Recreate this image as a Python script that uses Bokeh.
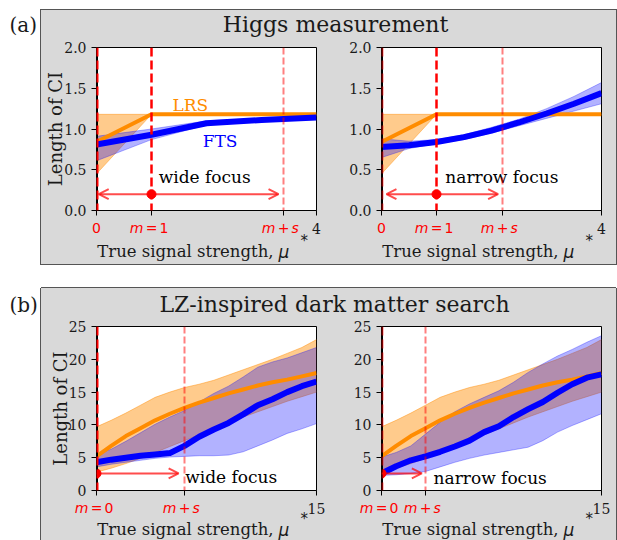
from bokeh.plotting import figure
from bokeh.layouts import column, row
from bokeh.models import Range1d, FixedTicker, Arrow, OpenHead, Span, Spacer
from bokeh.core.properties import value
from bokeh.embed import file_html
from bokeh.resources import INLINE

# ---------------- data: (a) Higgs measurement ----------------
higgs_title = "Higgs measurement"
higgs_m = 1.0
higgs_s_wide = 2.4
higgs_s_narrow = 1.2
higgs_xmax = 4
higgs_yticks = [0, 0.5, 1.0, 1.5, 2.0]
higgs_ytick_labels = ["0.0", "0.5", "1.0", "1.5", "2.0"]
higgs_red_tick_labels = ["0", "m = 1", "m + s"]
higgs_black_tick_labels = ["4"]

higgs_mu_lrs = [0, 1, 2, 3, 4]
higgs_lrs = [0.84, 1.18, 1.18, 1.18, 1.18]
higgs_lrs_lo = [0.45, 1.18, 1.18, 1.18, 1.18]
higgs_lrs_hi = [1.18, 1.18, 1.18, 1.18, 1.18]

higgs_mu_wide = [0, 1, 2, 3, 4]
higgs_fts_wide = [0.81, 0.93, 1.07, 1.11, 1.14]
higgs_fts_wide_lo = [0.61, 0.87, 1.05, 1.09, 1.12]
higgs_fts_wide_hi = [0.91, 1.00, 1.10, 1.13, 1.16]

higgs_mu_narrow = [0, 0.5, 1, 1.5, 2, 2.5, 3, 3.5, 4]
higgs_fts_narrow = [0.78, 0.80, 0.84, 0.90, 0.98, 1.08, 1.19, 1.31, 1.44]
higgs_fts_narrow_lo = [0.65, 0.76, 0.82, 0.87, 0.95, 1.04, 1.13, 1.22, 1.31]
higgs_fts_narrow_hi = [0.88, 0.85, 0.87, 0.93, 1.02, 1.12, 1.25, 1.40, 1.57]

higgs_arrow_y = 0.2
higgs_arrow_wide = [0.04, 3.31]
higgs_arrow_narrow = [0.09, 2.12]
higgs_focus_text = ["wide focus", "narrow focus"]
higgs_focus_text_xy = [(1.13, 0.41), (1.16, 0.41)]
method_labels = ["LRS", "FTS"]
method_label_xy = [(1.38, 1.29), (1.93, 0.85)]

# ---------------- data: (b) LZ-inspired dark matter search ----------------
lz_title = "LZ-inspired dark matter search"
lz_m = 0.0
lz_s_wide = 6.0
lz_s_narrow = 3.0
lz_xmax = 15
lz_yticks = [0, 5, 10, 15, 20, 25]
lz_ytick_labels = ["0", "5", "10", "15", "20", "25"]
lz_red_tick_labels = ["m = 0", "m + s"]
lz_black_tick_labels = ["15"]

lz_mu = list(range(16))
lz_lrs = [5.2, 6.8, 8.3, 9.5, 10.7, 11.7, 12.6, 13.4, 14.1, 14.8, 15.4, 16.0, 16.5, 16.9, 17.4, 17.9]
lz_lrs_lo = [2.8, 3.4, 4.1, 4.9, 5.8, 6.7, 7.6, 8.5, 9.4, 10.3, 11.2, 12.0, 12.8, 13.6, 14.3, 15.0]
lz_lrs_hi = [9.7, 10.7, 11.8, 13.0, 14.2, 15.0, 15.7, 16.2, 16.8, 17.6, 18.4, 19.2, 20.0, 20.9, 21.8, 23.0]

lz_fts_wide = [4.3, 4.7, 5.0, 5.3, 5.5, 5.7, 6.8, 8.2, 9.3, 10.3, 11.6, 13.0, 13.9, 15.0, 15.9, 16.6]
lz_fts_wide_lo = [3.6, 4.0, 4.3, 4.6, 4.9, 5.1, 5.2, 5.3, 5.3, 5.4, 5.9, 6.8, 7.7, 8.7, 9.4, 10.2]
lz_fts_wide_hi = [5.5, 6.3, 7.5, 8.8, 10.1, 11.2, 12.2, 13.5, 14.8, 15.9, 17.3, 18.8, 19.6, 20.2, 21.0, 21.8]

lz_fts_narrow = [2.6, 3.7, 4.6, 5.2, 5.9, 6.7, 7.6, 8.9, 9.8, 11.2, 12.4, 13.5, 14.9, 16.2, 17.2, 17.7]
lz_fts_narrow_lo = [2.3, 2.4, 2.6, 2.9, 3.6, 4.3, 4.9, 5.4, 5.8, 6.2, 6.6, 7.6, 8.9, 9.9, 10.8, 11.7]
lz_fts_narrow_hi = [5.1, 5.8, 6.8, 8.6, 10.4, 12.0, 13.2, 14.2, 15.2, 16.5, 18.0, 19.3, 20.5, 21.5, 22.6, 23.6]

lz_arrow_y = 2.6
lz_arrow_wide = [0.0, 5.6]
lz_arrow_narrow = [0.0, 2.75]
lz_focus_text = ["wide focus", "narrow focus"]
lz_focus_text_xy = [(6.05, 2.04), (3.55, 1.89)]

panel_tags = ["(a)", "(b)"]
x_label_parts = ["True signal strength,", "\u03bc", "*"]
y_label = "Length of CI"

# ---------------- styling / geometry ----------------
SERIF = "DejaVu Serif"
SANS = "DejaVu Sans"
GRAY = "#d9d9d9"
ORANGE = "#ff8c00"
BLUE = "#0000ff"
RED = "#ff0000"
INK = "#1a1a1a"

LEFT = 55          # left border of every subplot
FRAME_W = 220      # frame width of every subplot
W1, W2 = 285, 290  # figure widths (left / right subplot)
SUB_TOP, SUB_BOTTOM = 9, 9


def blank_fig(width, height, fill, x_range=None, y_range=None):
    f = figure(width=width, height=height,
               x_range=x_range if x_range is not None else Range1d(0, width),
               y_range=y_range if y_range is not None else Range1d(height, 0),
               output_backend="svg", toolbar_location=None,
               x_axis_location=None, y_axis_location=None, min_border=0)
    f.grid.visible = False
    f.outline_line_color = None
    f.background_fill_color = fill
    f.border_fill_color = fill
    return f


def subplot(width, frame_h, xmax, ymax, yticks, yticklabels, xticks, ylabel):
    p = figure(width=width, height=frame_h + SUB_TOP + SUB_BOTTOM,
               x_range=Range1d(0, xmax), y_range=Range1d(0, ymax),
               output_backend="svg", toolbar_location=None,
               min_border_left=LEFT, min_border_right=width - LEFT - FRAME_W,
               min_border_top=SUB_TOP, min_border_bottom=SUB_BOTTOM)
    p.border_fill_color = GRAY
    p.background_fill_color = "white"
    p.outline_line_color = "black"
    p.outline_line_width = 1
    p.xgrid.visible = False
    p.ygrid.visible = False
    for ax in (p.xaxis[0], p.yaxis[0]):
        ax.axis_line_color = "black"
        ax.major_tick_line_color = "black"
        ax.major_tick_out = 5
        ax.major_tick_in = 0
        ax.minor_tick_line_color = None
    ya = p.yaxis[0]
    ya.ticker = FixedTicker(ticks=yticks)
    ya.major_label_overrides = dict(zip(yticks, yticklabels))
    ya.major_label_text_font = SERIF
    ya.major_label_text_font_size = "14px"
    ya.major_label_text_color = INK
    ya.major_label_standoff = 5
    if ylabel:
        ya.axis_label = ylabel
        ya.axis_label_text_font = SERIF
        ya.axis_label_text_font_size = "18px"
        ya.axis_label_text_font_style = "normal"
        ya.axis_label_text_color = INK
        ya.axis_label_standoff = -5
    xa = p.xaxis[0]
    xa.ticker = FixedTicker(ticks=xticks)
    xa.major_label_overrides = {t: "" for t in xticks}
    xa.major_label_text_font_size = "0px"
    xa.major_label_standoff = 0
    return p


def tick_strip(width, height, xmax, red_ticks, red_labels, black_ticks, black_labels, label_y):
    """Strip under a subplot holding its tick labels and x-axis title, on the subplot's x scale."""
    ppu = FRAME_W / xmax
    xr = Range1d(-LEFT / ppu, xmax + (width - LEFT - FRAME_W) / ppu)
    f = blank_fig(width, height, GRAY, x_range=xr, y_range=Range1d(height, 0))
    ty = 8.5
    for t, lab in zip(red_ticks, red_labels):
        toks = lab.split(" ")
        if len(toks) == 1:
            spec = [(toks[0], "center", 0)]
        else:
            spec = [(toks[0], "right", -8), (toks[1], "center", 0), (toks[2], "left", 8)]
        for tok, align, off in spec:
            f.text(x=[t], y=[ty], text=[tok], x_offset=off, text_align=align, text_baseline="middle",
                   text_font=value(SANS), text_font_size="14px",
                   text_font_style="italic" if tok.isalpha() else "normal", text_color=RED)
    f.text(x=black_ticks, y=[ty] * len(black_ticks), text=black_labels, text_align="center",
           text_baseline="middle", text_font=value(SERIF), text_font_size="14px", text_color=INK)
    # x-axis title: plain part, italic mu, raised asterisk
    cx = xmax / 2
    f.text(x=[cx], y=[label_y], text=[x_label_parts[0]], x_offset=67, text_align="right",
           text_baseline="middle", text_font=value(SERIF), text_font_size="16.5px", text_color=INK)
    f.text(x=[cx], y=[label_y], text=[x_label_parts[1]], x_offset=72, text_align="left",
           text_baseline="middle", text_font=value(SANS), text_font_size="17px",
           text_font_style="italic", text_color=INK)
    f.text(x=[cx], y=[label_y - 11], text=[x_label_parts[2]], x_offset=94, text_align="left",
           text_baseline="middle", text_font=value(SANS), text_font_size="15px", text_color=INK)
    return f


def draw_series(p, mu_o, o, o_lo, o_hi, mu_b, b, b_lo, b_hi):
    p.varea(x=mu_o, y1=o_lo, y2=o_hi, fill_color=ORANGE, fill_alpha=0.45)
    p.line(mu_o, o_lo, line_color=ORANGE, line_alpha=0.45, line_width=1)
    p.line(mu_o, o_hi, line_color=ORANGE, line_alpha=0.45, line_width=1)
    p.varea(x=mu_b, y1=b_lo, y2=b_hi, fill_color=BLUE, fill_alpha=0.3)
    p.line(mu_b, b_lo, line_color=BLUE, line_alpha=0.3, line_width=1)
    p.line(mu_b, b_hi, line_color=BLUE, line_alpha=0.3, line_width=1)
    p.line(mu_o, o, line_color=ORANGE, line_width=4, line_join="round")
    p.line(mu_b, b, line_color=BLUE, line_width=6, line_join="round")


def vlines(p, m, s, zero_alpha, draw_m):
    p.add_layout(Span(location=0, dimension="height", line_color="black", line_width=3))
    p.add_layout(Span(location=0, dimension="height", line_color=RED, line_alpha=zero_alpha,
                      line_width=4, line_dash="9 4"))
    if draw_m:
        p.add_layout(Span(location=m, dimension="height", line_color=RED,
                          line_width=2.5, line_dash="9 4"))
    p.add_layout(Span(location=m + s, dimension="height", line_color=RED, line_alpha=0.5,
                      line_width=2, line_dash="7 3"))


def focus_arrow(p, xs, y, both, m, text, txy):
    head = dict(size=10, line_color=RED, line_alpha=0.7, line_width=2)
    p.add_layout(Arrow(x_start=xs[0], y_start=y, x_end=xs[1], y_end=y,
                       start=OpenHead(**head) if both else None, end=OpenHead(**head),
                       line_color=RED, line_alpha=0.7, line_width=2))
    p.scatter(x=[m], y=[y], size=9, color=RED)
    p.text(x=[txy[0]], y=[txy[1]], text=[text], text_font=value(SERIF), text_font_size="17px",
           text_color="black", text_baseline="middle", text_align="left")


# ---------------- panel (a) ----------------
HA_TITLE, HA_FRAME, HA_STRIP = 28, 163, 45
a_ticks_wide = [0, higgs_m, higgs_m + higgs_s_wide]
a_ticks_narrow = [0, higgs_m, higgs_m + higgs_s_narrow]

fa1 = subplot(W1, HA_FRAME, higgs_xmax, 2.0, higgs_yticks, higgs_ytick_labels,
              a_ticks_wide + [higgs_xmax], y_label)
draw_series(fa1, higgs_mu_lrs, higgs_lrs, higgs_lrs_lo, higgs_lrs_hi,
            higgs_mu_wide, higgs_fts_wide, higgs_fts_wide_lo, higgs_fts_wide_hi)
vlines(fa1, higgs_m, higgs_s_wide, 1.0, True)
focus_arrow(fa1, higgs_arrow_wide, higgs_arrow_y, True, higgs_m, higgs_focus_text[0], higgs_focus_text_xy[0])
fa1.text(x=[method_label_xy[0][0]], y=[method_label_xy[0][1]], text=[method_labels[0]],
         text_font=value(SERIF), text_font_size="17px", text_color=ORANGE, text_baseline="middle")
fa1.text(x=[method_label_xy[1][0]], y=[method_label_xy[1][1]], text=[method_labels[1]],
         text_font=value(SERIF), text_font_size="17px", text_color=BLUE, text_baseline="middle")

fa2 = subplot(W2, HA_FRAME, higgs_xmax, 2.0, higgs_yticks, higgs_ytick_labels,
              a_ticks_narrow + [higgs_xmax], None)
draw_series(fa2, higgs_mu_lrs, higgs_lrs, higgs_lrs_lo, higgs_lrs_hi,
            higgs_mu_narrow, higgs_fts_narrow, higgs_fts_narrow_lo, higgs_fts_narrow_hi)
vlines(fa2, higgs_m, higgs_s_narrow, 0.5, True)
focus_arrow(fa2, higgs_arrow_narrow, higgs_arrow_y, True, higgs_m, higgs_focus_text[1], higgs_focus_text_xy[1])

sa1 = tick_strip(W1, HA_STRIP, higgs_xmax, a_ticks_wide, higgs_red_tick_labels,
                 [higgs_xmax], higgs_black_tick_labels, 32.3)
sa2 = tick_strip(W2, HA_STRIP, higgs_xmax, a_ticks_narrow, higgs_red_tick_labels,
                 [higgs_xmax], higgs_black_tick_labels, 32.3)

title_a = blank_fig(W1 + W2, HA_TITLE, GRAY)
title_a.text(x=[294], y=[13.7], text=[higgs_title], text_align="center", text_baseline="middle",
             text_font=value(SERIF), text_font_size="22px", text_color=INK)
HA_TOTAL = HA_TITLE + HA_FRAME + SUB_TOP + SUB_BOTTOM + HA_STRIP
tag_a = blank_fig(41, HA_TOTAL, "white")
tag_a.text(x=[9], y=[14], text=[panel_tags[0]], text_align="left", text_baseline="middle",
           text_font=value(SERIF), text_font_size="20px", text_color=INK)

panel_a = column(title_a, row(fa1, fa2), row(sa1, sa2),
                 styles={"outline": "1px solid #555555", "background-color": GRAY})

# ---------------- panel (b) ----------------
HB_TITLE, HB_FRAME, HB_STRIP = 29, 164, 41
b_ticks_wide = [lz_m, lz_m + lz_s_wide]
b_ticks_narrow = [lz_m, lz_m + lz_s_narrow]

fb1 = subplot(W1, HB_FRAME, lz_xmax, 25, lz_yticks, lz_ytick_labels,
              b_ticks_wide + [lz_xmax], y_label)
draw_series(fb1, lz_mu, lz_lrs, lz_lrs_lo, lz_lrs_hi,
            lz_mu, lz_fts_wide, lz_fts_wide_lo, lz_fts_wide_hi)
vlines(fb1, lz_m, lz_s_wide, 1.0, False)
focus_arrow(fb1, lz_arrow_wide, lz_arrow_y, False, lz_m, lz_focus_text[0], lz_focus_text_xy[0])

fb2 = subplot(W2, HB_FRAME, lz_xmax, 25, lz_yticks, lz_ytick_labels,
              b_ticks_narrow + [lz_xmax], None)
draw_series(fb2, lz_mu, lz_lrs, lz_lrs_lo, lz_lrs_hi,
            lz_mu, lz_fts_narrow, lz_fts_narrow_lo, lz_fts_narrow_hi)
vlines(fb2, lz_m, lz_s_narrow, 0.5, False)
focus_arrow(fb2, lz_arrow_narrow, lz_arrow_y, False, lz_m, lz_focus_text[1], lz_focus_text_xy[1])

sb1 = tick_strip(W1, HB_STRIP, lz_xmax, b_ticks_wide, lz_red_tick_labels,
                 [lz_xmax], lz_black_tick_labels, 30.3)
sb2 = tick_strip(W2, HB_STRIP, lz_xmax, b_ticks_narrow, lz_red_tick_labels,
                 [lz_xmax], lz_black_tick_labels, 30.3)

title_b = blank_fig(W1 + W2, HB_TITLE, GRAY)
title_b.text(x=[293], y=[15.7], text=[lz_title], text_align="center", text_baseline="middle",
             text_font=value(SERIF), text_font_size="22px", text_color=INK)
HB_TOTAL = HB_TITLE + HB_FRAME + SUB_TOP + SUB_BOTTOM + HB_STRIP
tag_b = blank_fig(41, HB_TOTAL, "white")
tag_b.text(x=[9], y=[16], text=[panel_tags[1]], text_align="left", text_baseline="middle",
           text_font=value(SERIF), text_font_size="20px", text_color=INK)

panel_b = column(title_b, row(fb1, fb2), row(sb1, sb2),
                 styles={"background-color": GRAY,
                         "box-shadow": "0 -1px 0 0 #555555, -1px 0 0 0 #555555, 1px 0 0 0 #555555"})

layout = column(Spacer(width=10, height=10), row(tag_a, panel_a), Spacer(width=10, height=24),
                row(tag_b, panel_b))

open("out.html", "w").write(file_html(layout, INLINE))
